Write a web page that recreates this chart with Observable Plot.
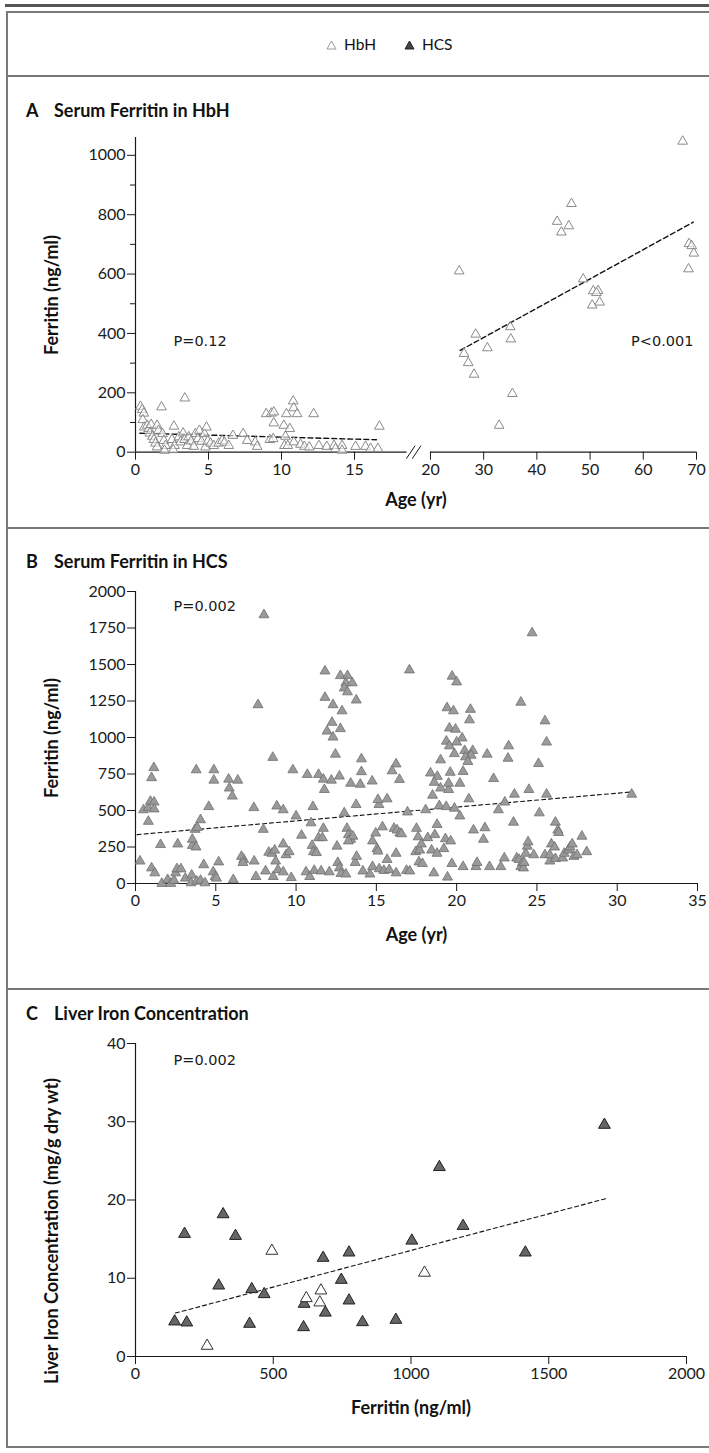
<!DOCTYPE html>
<html><head><meta charset="utf-8">
<script src="https://cdn.jsdelivr.net/npm/d3@7"></script>
<script src="https://cdn.jsdelivr.net/npm/@observablehq/plot@0.6"></script>
<style>
body{margin:0;background:#fff;}
#fig{position:relative;width:709px;height:1453px;overflow:hidden;font-family:Lato,"Open Sans",sans-serif;color:#111;}
.abs{position:absolute;}
.rule{position:absolute;background:#777;}
.title{position:absolute;font-weight:bold;font-size:18px;white-space:nowrap;}
.title .l{position:absolute;left:0;}
.title .t{position:absolute;left:28px;}
.leg{position:absolute;font-size:15.5px;white-space:nowrap;}
.ylab{position:absolute;font-weight:bold;font-size:18px;white-space:nowrap;transform:translate(-50%,-50%) rotate(-90deg);line-height:1;}
svg.plot{position:absolute;left:0;overflow:visible;}
</style></head>
<body>
<div id="fig">
  <div class="abs" style="left:5px;top:4px;width:704px;height:3px;background:#555"></div>
  <div class="abs" style="left:6px;top:11px;width:720px;height:1437px;border:2px solid #7a7a7a;box-sizing:border-box"></div>
  <div class="rule" style="left:6px;top:75px;width:709px;height:2px"></div>
  <div class="rule" style="left:6px;top:527px;width:709px;height:2px"></div>
  <div class="rule" style="left:6px;top:988px;width:709px;height:2px"></div>
  <div class="leg" style="left:326px;top:35px">
    <svg width="11" height="10" style="vertical-align:0px"><polygon points="1,9 5.5,1 10,9" fill="white" stroke="#999" stroke-width="1"/></svg>
    <span style="margin-left:3px">HbH</span>
    <svg width="11" height="10" style="vertical-align:0px;margin-left:24px"><polygon points="1,9 5.5,1 10,9" fill="#444" stroke="#222" stroke-width="1"/></svg>
    <span style="margin-left:3px">HCS</span>
  </div>
  <div class="title" style="left:26px;top:99px"><span class="l">A</span><span class="t">Serum Ferritin in HbH</span></div>
  <div class="title" style="left:26px;top:550px"><span class="l">B</span><span class="t">Serum Ferritin in HCS</span></div>
  <div class="title" style="left:26px;top:1002px"><span class="l">C</span><span class="t">Liver Iron Concentration</span></div>
  <div id="pa"></div><div id="pb"></div><div id="pc"></div>
  <div class="ylab" style="left:51px;top:295px">Ferritin (ng/ml)</div>
  <div class="ylab" style="left:51px;top:738px">Ferritin (ng/ml)</div>
  <div class="ylab" style="left:51px;top:1231px">Liver Iron Concentration (mg/g dry wt)</div>
</div>
<script>
// ---------- DATA ----------
// Panel A: HbH, [age (yr), ferritin (ng/ml)]
const hbhChildrenA = [[0.34,154],[0.46,143],[0.57,131],[0.5,109],[0.6,84],[0.8,90],[0.9,79],[1.07,93],[0.98,64],[1.16,53],[1.26,42],[1.48,90],[1.58,73],[1.37,30],[1.48,17],[1.78,152],[1.85,62],[1.94,39],[2.05,22],[1.99,6],[2.63,87],[2.5,42],[2.67,22],[2.58,8],[3.38,182],[2.97,51],[3.08,34],[3.26,64],[3.36,42],[3.54,22],[3.65,51],[3.81,37],[3.99,19],[4.1,62],[4.27,45],[4.38,73],[4.52,36],[4.72,62],[4.86,84],[4.79,17],[4.95,37],[5.14,30],[5.36,22],[5.7,30],[5.94,39],[6.1,33],[6.39,22],[6.67,56],[7.37,62],[7.65,39],[8.2,34],[8.33,19],[8.95,129],[9.3,131],[9.47,135],[9.47,98],[9.2,42],[9.43,45],[10.16,90],[10.27,53],[10.2,22],[10.43,22],[10.34,129],[10.57,79],[10.8,172],[10.84,149],[11.07,129],[10.84,34],[11.3,26],[11.57,19],[11.9,17],[12.2,129],[12.56,22],[13.1,19],[13.6,22],[13.7,11],[14.15,22],[14.15,6],[15.07,19],[15.75,19],[16.1,12],[16.6,12],[16.7,87]];
const hbhAdultsA = [[67.4,1047],[46.5,837],[43.8,777],[46.0,762],[44.6,741],[25.4,610],[68.6,702],[69.1,695],[69.5,670],[68.5,617],[48.7,583],[50.6,543],[51.5,544],[51.2,537],[51.8,505],[50.4,495],[35.0,422],[35.1,381],[28.5,397],[30.7,351],[26.3,332],[27.1,301],[28.2,262],[35.4,197],[32.9,90]];
const trendChildrenA = [[0.3,64],[16.5,42]];
const trendAdultsA = [[25.6,343],[69.4,775]];
const ageTicksA = [0,5,10,15,20,30,40,50,60,70];
const ferTicksA = [0,200,400,600,800,1000];
const ferMinorTicksA = [100,300,500,700,900];
const axisSegmentsA = [[0,18.6],[20,70]];
const pLabelsA = ["P=0.12","P<0.001"];

// Panel B: HCS, [age (yr), ferritin (ng/ml)]
const hcsB = [[0.28,153],[0.5,504],[0.8,519],[0.93,562],[1.16,557],[1.16,510],[0.8,425],[1.0,106],[1.2,72],[1.56,266],[1.64,0],[2.0,26],[2.2,0],[2.4,21],[2.5,72],[2.58,100],[2.83,100],[2.63,270],[3.1,36],[3.5,57],[3.46,4],[3.54,260],[3.54,302],[3.77,249],[3.71,370],[3.85,383],[4.05,436],[3.82,15],[4.05,21],[4.33,4],[4.25,128],[4.56,526],[4.84,79],[4.96,47],[5.04,36],[5.18,147],[6.09,26],[6.74,164],[6.6,185],[6.69,143],[7.37,519],[7.39,153],[7.5,47],[7.96,370],[8.1,85],[8.3,213],[8.5,206],[8.67,228],[8.58,47],[8.73,153],[8.87,94],[8.8,530],[9.2,504],[9.2,270],[9.38,196],[9.2,79],[9.57,217],[9.7,40],[10.0,462],[10.34,330],[10.62,79],[10.85,47],[10.93,415],[11.05,526],[11.0,260],[11.08,217],[11.27,211],[11.13,89],[11.4,313],[11.56,85],[11.64,313],[11.7,377],[11.76,643],[12.07,79],[12.55,255],[12.6,143],[12.7,106],[12.8,68],[13.0,483],[13.1,64],[13.17,377],[13.26,334],[13.4,302],[13.54,323],[13.26,291],[13.68,143],[13.74,540],[13.77,185],[14.16,85],[14.6,64],[14.76,115],[14.76,291],[14.96,345],[15.04,238],[15.1,221],[15.16,540],[15.1,574],[15.18,100],[15.38,387],[15.47,89],[15.67,579],[15.67,164],[15.8,94],[16.1,377],[16.23,206],[16.23,72],[16.29,366],[16.46,345],[16.57,340],[16.88,89],[17.08,85],[16.94,489],[17.45,217],[17.5,377],[17.6,319],[17.65,147],[17.7,228],[17.8,270],[17.87,136],[18.07,504],[18.2,313],[18.44,228],[18.5,604],[18.58,72],[18.64,334],[18.78,404],[18.78,206],[18.92,532],[19.0,653],[19.2,238],[19.3,306],[19.35,526],[19.43,43],[19.5,643],[19.63,291],[19.7,136],[19.86,515],[20.2,462],[20.4,115],[20.76,579],[21.05,366],[21.2,115],[21.27,143],[21.67,302],[21.76,381],[22.05,115],[22.6,504],[22.75,115],[22.97,174],[23.0,557],[23.54,419],[23.6,611],[23.74,174],[23.88,164],[24.0,115],[24.1,143],[24.16,106],[24.2,143],[24.3,206],[24.4,255],[24.45,285],[24.5,643],[24.8,196],[25.15,483],[25.5,196],[25.6,611],[25.8,153],[25.8,196],[25.9,270],[26.1,249],[26.15,170],[26.15,419],[26.3,366],[26.35,349],[26.6,174],[26.7,206],[26.95,228],[27.06,249],[27.2,270],[27.3,185],[27.5,196],[27.8,323],[28.1,217],[30.9,611],[5.84,653],[6.03,598],
[1.14,793],[1.0,724],[3.78,778],[4.88,778],[4.88,707],[5.8,714],[6.37,707],[7.63,1224],[8.0,1840],[8.55,863],[9.8,778],[10.7,746],[11.4,746],[11.7,714],[12.2,707],[12.7,735],[12.45,885],[13.4,686],[11.8,1455],[11.8,1274],[12.3,1224],[12.86,1182],[12.24,1103],[11.93,1043],[12.76,1060],[12.3,1002],[12.76,1423],[13.2,1423],[13.1,1374],[13.5,1374],[13.0,1338],[13.2,1312],[13.75,1256],
[24.7,1716],[17.06,1462],[19.72,1419],[20.0,1380],[24.0,1241],[19.4,1203],[19.8,1182],[20.86,1192],[20.8,1120],[25.5,1113],[19.55,1064],[19.93,1056],[19.36,974],[20.34,996],[20.0,968],[19.55,942],[25.6,968],[23.24,942],[20.5,910],[21.0,910],[20.9,878],[20.55,867],[20.7,835],[19.86,889],[21.9,885],[19.0,846],[23.2,857],[25.1,821],[14.07,853],[14.07,765],[16.23,818],[15.98,771],[16.44,712],[14.74,701],[14.0,679],[18.37,756],[18.8,733],[19.6,761],[20.4,767],[18.6,692],[19.5,686],[20.2,686],[22.3,718]];
const trendB = [[0.1,335],[31,628]];
const ageTicksB = [0,5,10,15,20,25,30,35];
const ferTicksB = [0,250,500,750,1000,1250,1500,1750,2000];
const pLabelB = ["P=0.002"];

// Panel C: [ferritin (ng/ml), liver iron (mg/g dry wt)]
const hcsC = [[142,4.47],[186,4.34],[178,15.66],[302,9.06],[318,18.17],[363,15.4],[414,4.17],[422,8.6],[467,7.96],[610,3.74],[612,6.72],[681,12.6],[689,5.6],[747,9.79],[775,13.28],[775,7.15],[824,4.38],[945,4.68],[1003,14.8],[1103,24.2],[1189,16.68],[1415,13.28],[1702,29.6]];
const hbhC = [[260,1.36],[495,13.5],[620,7.45],[673,8.43],[669,6.9],[1049,10.7]];
const trendC = [[145,5.55],[1710,20.2]];
const ferTicksC = [0,500,1000,1500,2000];
const licTicksC = [0,10,20,30,40];
const pLabelC = ["P=0.002"];

// ---------- CHARTS ----------
const FONT = "Lato, 'Open Sans', sans-serif";
const PFONT = "'DejaVu Sans', Verdana, sans-serif";
const baseStyle = {fontFamily: FONT, fontSize: "16px", color: "#1a1a1a", background: "transparent", overflow: "visible"};
const TICKFS = 16;
const LABELFS = 18;
const plain = d => String(d);

// broken age axis for panel A
const brk = a => a < 19 ? a : 20.2 + (a - 20) * 0.3644;
const tickLabelA = new Map(ageTicksA.map(t => [brk(t), String(t)]));

function place(svg, top, id) {
  svg.classList.add("plot");
  svg.style.top = top + "px";
  document.getElementById(id).appendChild(svg);
}

const plotA = Plot.plot({
  width: 709, height: 400,
  marginLeft: 135, marginRight: 13, marginTop: 12, marginBottom: 73.3,
  style: baseStyle,
  x: {domain: [0, brk(70)]},
  y: {domain: [0, 1060]},
  marks: [
    Plot.ruleX([0], {stroke: "#1a1a1a", strokeWidth: 1.2}),
    Plot.ruleY(axisSegmentsA, {y: 0, x1: d => brk(d[0]), x2: d => brk(d[1]), stroke: "#1a1a1a", strokeWidth: 1.2}),
    Plot.link([brk(18.6) + 0.25, brk(18.6) + 0.65], {x1: d => d - 0.3, x2: d => d + 0.3, y1: -22, y2: 22, stroke: "#1a1a1a", strokeWidth: 1}),
    Plot.axisX(ageTicksA.map(brk), {tickSize: 8, tickPadding: 3, tickFormat: u => tickLabelA.get(u), label: null, fontSize: TICKFS}),
    Plot.axisY(ferTicksA, {tickSize: 8, tickPadding: 2, tickFormat: plain, label: null, fontSize: TICKFS}),
    Plot.axisY(ferMinorTicksA, {tickSize: 5, tickFormat: () => "", label: null}),
    Plot.line(trendChildrenA, {x: d => brk(d[0]), y: d => d[1], stroke: "#111", strokeWidth: 1.4, strokeDasharray: "5,3"}),
    Plot.line(trendAdultsA, {x: d => brk(d[0]), y: d => d[1], stroke: "#111", strokeWidth: 1.4, strokeDasharray: "5,3"}),
    Plot.dot(hbhChildrenA.concat(hbhAdultsA), {x: d => brk(d[0]), y: d => d[1], symbol: "triangle", r: 3.6, fill: "white", fillOpacity: 0.6, stroke: "#8a8a8a", strokeWidth: 1}),
    Plot.text(pLabelsA.slice(0,1), {frameAnchor: "top-left", textAnchor: "start", dx: 38, dy: 198, fontFamily: PFONT, fontSize: 14.5, fill: "#1a1a1a"}),
    Plot.text(pLabelsA.slice(1), {frameAnchor: "top-right", textAnchor: "end", dx: -3, dy: 198, fontFamily: PFONT, fontSize: 14.5, fill: "#1a1a1a"}),
    Plot.text(["Age (yr)"], {frameAnchor: "bottom", dy: 54, fontWeight: "bold", fontSize: LABELFS, fill: "#111"})
  ]
});
place(plotA, 125, "pa");

const plotB = Plot.plot({
  width: 709, height: 410,
  marginLeft: 135, marginRight: 12, marginTop: 16, marginBottom: 102,
  style: baseStyle,
  x: {domain: [0, 35]},
  y: {domain: [0, 2000]},
  marks: [
    Plot.ruleX([0], {stroke: "#1a1a1a", strokeWidth: 1.2}),
    Plot.ruleY([0], {stroke: "#1a1a1a", strokeWidth: 1.2}),
    Plot.axisX(ageTicksB, {tickSize: 8, tickPadding: 3, tickFormat: plain, label: null, fontSize: TICKFS}),
    Plot.axisY(ferTicksB, {tickSize: 8, tickPadding: 2, tickFormat: plain, label: null, fontSize: TICKFS}),
    Plot.line(trendB, {x: d => d[0], y: d => d[1], stroke: "#111", strokeWidth: 1.1, strokeDasharray: "4,3"}),
    Plot.dot(hcsB, {x: d => d[0], y: d => d[1], symbol: "triangle", r: 3.7, fill: "#9a9a9a", stroke: "#6f6f6f", strokeWidth: 0.8}),
    Plot.text(pLabelB, {frameAnchor: "top-left", textAnchor: "start", dx: 38, dy: 9, fontFamily: PFONT, fontSize: 14.5, fill: "#1a1a1a"}),
    Plot.text(["Age (yr)"], {frameAnchor: "bottom", dy: 57, fontWeight: "bold", fontSize: LABELFS, fill: "#111"})
  ]
});
place(plotB, 575, "pb");

const plotC = Plot.plot({
  width: 709, height: 420,
  marginLeft: 135, marginRight: 23, marginTop: 15, marginBottom: 92,
  style: baseStyle,
  x: {domain: [0, 2000]},
  y: {domain: [0, 40]},
  marks: [
    Plot.ruleX([0], {stroke: "#1a1a1a", strokeWidth: 1.2}),
    Plot.ruleY([0], {stroke: "#1a1a1a", strokeWidth: 1.2}),
    Plot.axisX(ferTicksC, {tickSize: 8, tickPadding: 3, tickFormat: plain, label: null, fontSize: TICKFS}),
    Plot.axisY(licTicksC, {tickSize: 8, tickPadding: 2, tickFormat: plain, label: null, fontSize: TICKFS}),
    Plot.line(trendC, {x: d => d[0], y: d => d[1], stroke: "#111", strokeWidth: 1.1, strokeDasharray: "4,3"}),
    Plot.dot(hcsC, {x: d => d[0], y: d => d[1], symbol: "triangle", r: 4.4, fill: "#666", stroke: "#222", strokeWidth: 1}),
    Plot.dot(hbhC, {x: d => d[0], y: d => d[1], symbol: "triangle", r: 4.4, fill: "white", stroke: "#333", strokeWidth: 1}),
    Plot.text(pLabelC, {frameAnchor: "top-left", textAnchor: "start", dx: 38, dy: 11, fontFamily: PFONT, fontSize: 14.5, fill: "#1a1a1a"}),
    Plot.text(["Ferritin (ng/ml)"], {frameAnchor: "bottom", dy: 57, fontWeight: "bold", fontSize: LABELFS, fill: "#111"})
  ]
});
place(plotC, 1028, "pc");
</script>
</body></html>
